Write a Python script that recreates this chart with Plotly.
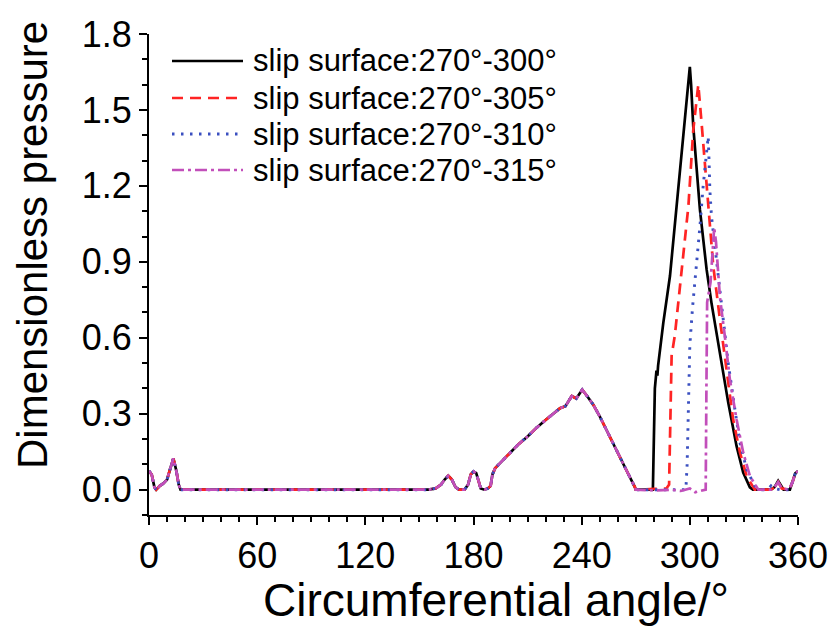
import plotly.graph_objects as go

# ---------------- data ----------------
# shared part of the pressure profile (all four cases coincide here)
ANGLE_SHARED = [0, 1.5, 3, 4, 6, 8, 10, 12, 13.5, 15, 16.5, 17.5, 20, 60, 120, 155, 159,
                162, 164, 166, 168, 170, 172, 175, 177, 178.5, 180, 181.5, 183, 184, 186,
                188, 189.5, 190.5, 192, 194, 196.5, 200, 205, 210, 215, 220, 224, 228,
                231, 234.5, 237, 240.3, 243, 246.5, 250, 255, 261, 266, 269.5]
P_SHARED = [0.074, 0.06, 0.01, 0.0, 0.015, 0.025, 0.04, 0.09, 0.124, 0.08, 0.02, 0.0, 0.0,
            0.0, 0.0, 0.0, 0.005, 0.02, 0.04, 0.055, 0.04, 0.01, 0.0, 0.0, 0.02, 0.06,
            0.072, 0.065, 0.03, 0.005, 0.0, 0.005, 0.015, 0.06, 0.085, 0.10, 0.12, 0.145,
            0.18, 0.21, 0.245, 0.275, 0.30, 0.322, 0.33, 0.37, 0.36, 0.395, 0.37, 0.335,
            0.29, 0.22, 0.133, 0.06, 0.01]

# slip-surface dependent part (270 deg .. 360 deg)
ANGLE_300 = [270, 279.5, 280, 280.6, 281.5, 282, 282.4, 285.3, 289, 292.7, 296.4, 299.3,
             300, 300.7, 301.9, 305.6, 309.3, 312, 316.7, 321.3, 325.9, 329.6, 333.3, 335,
             345, 347, 349, 350.5, 352, 355.5, 357, 358.5, 360]
P_300 = [0.0, 0.0, 0.15, 0.40, 0.47, 0.45, 0.49, 0.66, 0.845, 1.12, 1.40, 1.62, 1.67, 1.6,
         1.435, 1.106, 0.87, 0.738, 0.54, 0.344, 0.173, 0.068, 0.009, 0.0, 0.0, 0.01, 0.035,
         0.02, 0.0, 0.0, 0.03, 0.065, 0.074]

ANGLE_305 = [270, 280, 287, 288.5, 289.2, 289.9, 291.7, 293.6, 295.4, 299.2, 301.9, 304.7,
             306.5, 309.3, 313, 316.7, 320.4, 324, 327.8, 331.5, 336, 345, 347, 349, 351,
             355, 357, 358.5, 360]
P_305 = [0.0, 0.003, 0.005, 0.02, 0.35, 0.53, 0.61, 0.738, 0.85, 1.12, 1.42, 1.6, 1.45,
         1.2, 0.883, 0.672, 0.475, 0.278, 0.147, 0.054, 0.0, 0.0, 0.01, 0.03, 0.005, 0.0,
         0.03, 0.065, 0.074]

ANGLE_310 = [270, 285, 297.8, 298.5, 299.3, 300, 301.5, 303.5, 305.6, 307.4, 309.3, 310.2,
             310.7, 311.1, 312, 313, 315.7, 318.5, 321.3, 325, 327.8, 331.5, 336, 340, 343,
             345, 346.5, 350, 355, 357, 358.5, 360]
P_310 = [0.0, 0.0, 0.0, 0.1, 0.35, 0.57, 0.72, 0.87, 1.04, 1.2, 1.34, 1.395, 1.29, 1.185,
         1.08, 1.02, 0.85, 0.672, 0.50, 0.317, 0.186, 0.08, 0.015, 0.0, 0.0, 0.015, 0.005,
         0.0, 0.0, 0.03, 0.065, 0.074]

ANGLE_315 = [270, 280, 290, 295, 300, 303, 306, 308.8, 309.2, 309.6, 311.5, 313.5, 314.5,
             316, 316.7, 319.4, 322.2, 325.9, 329.6, 333.3, 336, 338, 345, 347, 349, 351,
             355, 357, 358.5, 360]
P_315 = [0.0, -0.003, 0.0, -0.005, 0.005, -0.01, -0.005, 0.0, 0.4, 0.74, 0.82, 1.035, 0.98,
         0.85, 0.76, 0.607, 0.436, 0.278, 0.147, 0.054, 0.02, 0.0, 0.0, 0.01, 0.03, 0.005,
         0.0, 0.03, 0.065, 0.074]

SERIES_NAMES = ["slip surface:270°-300°", "slip surface:270°-305°",
                "slip surface:270°-310°", "slip surface:270°-315°"]
X_TICKS = [0, 60, 120, 180, 240, 300, 360]
Y_TICKS = [0.0, 0.3, 0.6, 0.9, 1.2, 1.5, 1.8]
Y_TICK_TEXT = ["0.0", "0.3", "0.6", "0.9", "1.2", "1.5", "1.8"]
X_TITLE = "Circumferential angle/°"
Y_TITLE = "Dimensionless pressure"

# ---------------- figure ----------------
FONT = "Liberation Sans, Arial, sans-serif"
W, H = 830, 629
ML, MT, MR, MB = 149, 34, 32, 114
PW, PH = W - ML - MR, H - MT - MB

styles = [
    dict(color="#000000", width=2.7, dash="solid"),
    dict(color="#ff2424", width=2.7, dash="11px,7px"),
    dict(color="#3a4fc0", width=2.9, dash="2.5px,6.5px"),
    dict(color="#c24fba", width=2.7, dash="12px,4px,3px,4px"),
]
segments = [(ANGLE_300, P_300), (ANGLE_305, P_305), (ANGLE_310, P_310), (ANGLE_315, P_315)]

fig = go.Figure()
for name, (ang, p), st in zip(SERIES_NAMES, segments, styles):
    fig.add_trace(go.Scatter(
        x=ANGLE_SHARED + ang, y=P_SHARED + p, mode="lines", name=name,
        line=st, showlegend=False,
    ))


def px_to_paper_x(px):
    return (px - ML) / PW


def px_to_paper_y(py):
    return (H - MB - py) / PH


# legend drawn in the upper-left corner of the plot (line sample + label)
legend_rows_y = [61, 98, 134, 170]
for name, st, ry in zip(SERIES_NAMES, styles, legend_rows_y):
    fig.add_shape(
        type="line", xref="paper", yref="paper",
        x0=px_to_paper_x(172), x1=px_to_paper_x(243),
        y0=px_to_paper_y(ry), y1=px_to_paper_y(ry),
        line=dict(color=st["color"], width=st["width"], dash=st["dash"]),
    )
    fig.add_annotation(
        text=name, xref="paper", yref="paper",
        x=px_to_paper_x(251), y=px_to_paper_y(ry),
        xanchor="left", yanchor="middle", showarrow=False,
        font=dict(size=31, family=FONT, color="black"),
    )

# axis titles (placed as in the reference, slightly off-centre)
fig.add_annotation(
    text=X_TITLE, xref="paper", yref="paper",
    x=px_to_paper_x(496), y=px_to_paper_y(600),
    xanchor="center", yanchor="middle", showarrow=False,
    font=dict(size=46, family=FONT, color="black"),
)
fig.add_annotation(
    text=Y_TITLE, xref="paper", yref="paper", textangle=-90,
    x=px_to_paper_x(33), y=px_to_paper_y(245),
    xanchor="center", yanchor="middle", showarrow=False,
    font=dict(size=42, family=FONT, color="black"),
)

fig.update_layout(
    width=W, height=H,
    margin=dict(l=ML, r=MR, t=MT, b=MB, autoexpand=False),
    paper_bgcolor="white", plot_bgcolor="white",
    font=dict(family=FONT, color="black"),
    showlegend=False,
)
fig.update_xaxes(
    automargin=False,
    range=[0, 360], tickmode="array", tickvals=X_TICKS,
    ticks="outside", ticklen=8, tickwidth=2, tickcolor="black",
    showline=True, linecolor="black", linewidth=2, mirror=False,
    showgrid=False, zeroline=False,
    minor=dict(tickvals=list(range(0, 361, 10)), ticks="outside", ticklen=5,
               tickwidth=2, tickcolor="black", showgrid=False),
    tickfont=dict(size=36, family=FONT),
)
fig.update_yaxes(
    automargin=False,
    range=[-0.1, 1.8], tickmode="array", tickvals=Y_TICKS, ticktext=Y_TICK_TEXT,
    ticks="outside", ticklen=8, tickwidth=2, tickcolor="black",
    showline=True, linecolor="black", linewidth=2, mirror=False,
    showgrid=False, zeroline=False,
    minor=dict(tickvals=[round(-0.1 + 0.1 * i, 1) for i in range(20)], ticks="outside",
               ticklen=5, tickwidth=2, tickcolor="black", showgrid=False),
    tickfont=dict(size=36, family=FONT),
)

# remove the page's default body margin so the figure fills the window exactly
fig.write_html(
    "out.html",
    config={"displayModeBar": False},
    post_script="document.body.style.margin='0';document.body.style.overflow='hidden';",
)
